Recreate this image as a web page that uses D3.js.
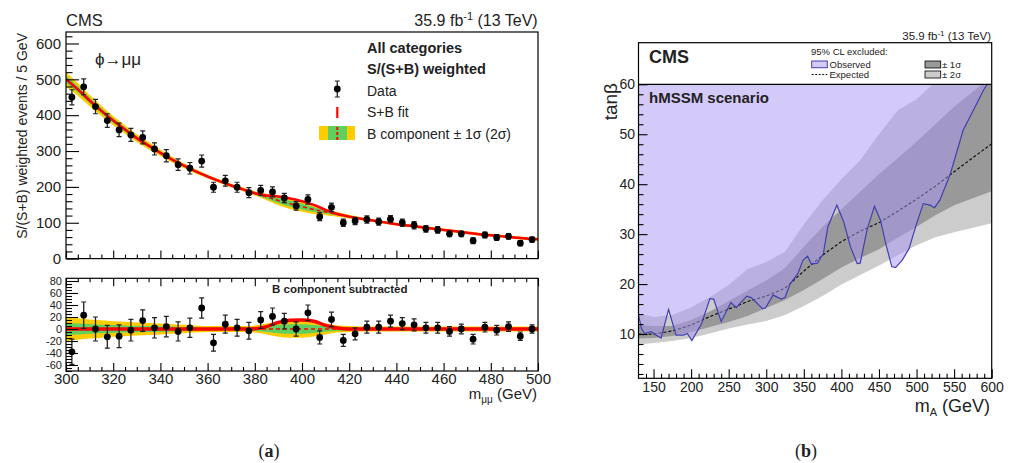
<!DOCTYPE html>
<meta charset="utf-8">
<head>
<style>
body { margin: 0; background: #fff; }
svg text { font-family: "Liberation Sans", Arial, sans-serif; fill: #222; }
.axis line { stroke: #000; stroke-width: 1.1; }
.frame { fill: none; stroke: #000; stroke-width: 1.2; }
</style>
</head>
<body>
<svg id="chart" width="1013" height="463"></svg>
<script src="https://cdn.jsdelivr.net/npm/d3@7/dist/d3.min.js"></script>
<script>
// ---------- (a) dimuon spectrum ----------
var binCenters = d3.range(302.5, 500, 5);   // 40 bins, 5 GeV wide
var dataCounts = [450,479,424,385,359,345,338,306,287,262,252,272,199,217,199,184,190,186,169,147,
                  165,117,143,100,105,109,103,110,100,93,83,80,69,69,50,66,59,62,43,53];
var dataErr    = [21,22,20,19,19,18,18,17,17,16,16,17,14,15,14,14,14,14,13,12,
                  13,11,12,10,10,10,10,10,10,10,9,9,8,8,8,8,8,8,7,7];
var residuals  = [-38,23,0,-13,-12,-2,14,2,4,-4,2,35,-23,8,2,-3,15,21,13,0,
                  27,-14,16,-19,-8,3,3,13,9,7,2,2,-4,0,-17,3,-2,4,-12,0];

var fitMass = d3.range(300, 501, 5);        // 41 points
var bkgFit = [500,472,441,412,385,360,336,315,295,276,259,243,229,216,204,193,182,172,162,153,
              145,137,130,123,117,111,106,101,96,92,88,84,80,76,72,68,65,62,59,56,54];
var sigFit = [0,0,0,0,0,0,0,0,0,0,0,0,0,0,0,0,0.5,4,11,14.5,
              15,13,6,1.5,0,0,0,0,0,0,0,0,0,0,0,0,0,0,0,0,0];
var band1  = [10,9,8,7,6.5,6,5.5,5,4.5,4,3.5,3,2.5,2.5,2.5,2.5,3,5,7,8,
              8,6.5,4.5,3,2.5,2,2,2,2,2,2,2,2,2,2,2,2,2,2,2,2];
var band2  = [20,18,16,14.5,13,12,11,10,9,8,7,6,5,5,5,5,6,9,13,14.5,
              14.5,12.5,9,6,5,4,4,4,4,4,4,4,4,4,4,4,4,4,4,4,4];

var topTicks = [0,100,200,300,400,500,600];
var botTicks = [-60,-40,-20,0,20,40,60,80];
var massTicks = [300,320,340,360,380,400,420,440,460,480,500];

// ---------- (b) hMSSM limits ----------
var limMass = [130,150,175,200,225,250,275,300,325,350,375,400,425,450,475,500,525,550,575,600];
var expLim  = [10.0,10.0,10.6,11.8,13.5,15.0,16.5,17.6,19.2,22.6,25.8,28.5,30.6,32.3,34.6,37.0,39.6,42.5,45.3,48.1];
var sig1Up  = [11.8,11.6,11.6,12.8,14.5,16.6,18.7,20.7,23.2,27.5,31.5,35.0,38.5,42.0,45.2,48.5,52.0,55.5,58.5,61.5];
var sig1Dn  = [9.1,9.2,9.6,10.4,11.4,12.4,13.6,15.2,16.8,18.8,21.0,23.3,25.2,27.0,29.3,31.5,33.8,35.8,37.2,38.6];
var sig2Up  = [14.1,13.4,13.8,15.3,17.4,19.8,23.0,24.4,26.5,32.0,36.8,41.0,44.8,50.0,54.8,57.0,60.5,64,67,70];
var sig2Dn  = [7.9,8.2,8.6,9.2,10.1,11.1,11.9,12.6,13.8,15.6,17.6,19.9,21.8,23.7,25.8,27.8,29.4,30.4,31.3,32.2];

var obsMass = [130,134,138,147,151,160,170,180,190,195,201,214,225,230,240,253,260,274,280,295,299,309,320,325,332,342,349,355,360,
               368,376,382,394,403,412,421,425,434,444,452,459,467,472,481,490,500,509,518,524,531,545,562,580,589,594];
var obsLim  = [13.8,11.1,10.1,10.5,10.0,9.2,14.9,9.8,9.8,10.1,8.7,12.1,17.1,17.0,12.5,16.3,15.3,17.6,17.3,15.1,15.2,17.8,17.0,17.3,20.1,22.1,24.8,25.6,24.0,
               24.2,26.1,31.5,35.8,32.5,27.5,24.1,24.2,30.8,35.6,32.8,28.1,23.5,23.3,24.8,27.1,32.1,36.1,35.8,35.3,36.8,42.1,50.8,56.1,58.8,60];

var rangeA = [130,600];
var tanbTicks = [10,20,30,40,50,60];
var mATicks = [150,200,250,300,350,400,450,500,550,600];

var svg = d3.select("#chart");

function drawTicks(g, axisFn, scale, vals, size, labels, fontSize, pad) {
    var ax = axisFn(scale).tickValues(vals).tickSize(-size).tickPadding(pad || 4);
    ax.tickFormat(labels ? function (d) { return String(d); } : "");
    g.attr("class", "axis").call(ax);
    g.select(".domain").remove();
    g.selectAll("text").style("font-size", fontSize + "px");
}

// ======================= panel (a) =======================
var xL = d3.scaleLinear().domain([300, 500]).range([66, 538]);
var yTop = d3.scaleLinear().domain([0, 632]).range([258.6, 32]);
var yBot = d3.scaleLinear().domain([-70, 84.5]).range([371, 278.3]);

svg.append("defs").selectAll("clipPath")
    .data([["clipTop", yTop], ["clipBot", yBot]])
    .enter().append("clipPath").attr("id", d => d[0])
    .append("rect")
    .attr("x", xL.range()[0]).attr("width", xL.range()[1] - xL.range()[0])
    .attr("y", d => d[1].range()[1]).attr("height", d => d[1].range()[0] - d[1].range()[1]);

var fitPts = fitMass.map((m, i) => ({ m: m, b: bkgFit[i], s: sigFit[i], w1: band1[i], w2: band2[i] }));

function bandArea(ys, base, key) {
    return d3.area().curve(d3.curveMonotoneX)
        .x(d => xL(d.m))
        .y0(d => ys(base(d) - d[key]))
        .y1(d => ys(base(d) + d[key]));
}

// top panel
var gTop = svg.append("g").attr("clip-path", "url(#clipTop)");
gTop.append("path").datum(fitPts).attr("fill", "#ffcc00").attr("d", bandArea(yTop, d => d.b, "w2"));
gTop.append("path").datum(fitPts).attr("fill", "#5fd05f").attr("d", bandArea(yTop, d => d.b, "w1"));
gTop.append("path").datum(fitPts).attr("fill", "none").attr("stroke", "#ff0000")
    .attr("stroke-width", 1.5).attr("stroke-dasharray", "4,3")
    .attr("d", d3.line().curve(d3.curveMonotoneX).x(d => xL(d.m)).y(d => yTop(d.b)));
gTop.append("path").datum(fitPts).attr("fill", "none").attr("stroke", "#ff0000")
    .attr("stroke-width", 2.5)
    .attr("d", d3.line().curve(d3.curveMonotoneX).x(d => xL(d.m)).y(d => yTop(d.b + d.s)));

var pts = binCenters.map((m, i) => ({ m: m, v: dataCounts[i], e: dataErr[i], r: residuals[i] }));

function drawPoints(g, ys, key) {
    var p = g.selectAll(".pt").data(pts).enter().append("g").attr("class", "pt");
    p.append("line").attr("x1", d => xL(d.m)).attr("x2", d => xL(d.m))
        .attr("y1", d => ys(d[key] - d.e)).attr("y2", d => ys(d[key] + d.e))
        .attr("stroke", "#222").attr("stroke-width", 1.3);
    [-1, 1].forEach(function (s) {
        p.append("line").attr("x1", d => xL(d.m) - 2.5).attr("x2", d => xL(d.m) + 2.5)
            .attr("y1", d => ys(d[key] + s * d.e)).attr("y2", d => ys(d[key] + s * d.e))
            .attr("stroke", "#222").attr("stroke-width", 1.2);
    });
    p.append("circle").attr("cx", d => xL(d.m)).attr("cy", d => ys(d[key])).attr("r", 3.4).attr("fill", "#000");
}
drawPoints(svg.append("g").attr("clip-path", "url(#clipTop)"), yTop, "v");

svg.append("rect").attr("class", "frame").attr("x", 66).attr("y", 32).attr("width", 472).attr("height", 226.6);
drawTicks(svg.append("g").attr("transform", "translate(66,0)"), d3.axisLeft, yTop, topTicks, 13, true, 15, 5);
drawTicks(svg.append("g").attr("transform", "translate(66,0)"), d3.axisLeft, yTop, d3.range(20, 632, 20).filter(v => v % 100), 6.5, false);
drawTicks(svg.append("g").attr("transform", "translate(0,258.6)"), d3.axisBottom, xL, massTicks, 8, false);
drawTicks(svg.append("g").attr("transform", "translate(0,258.6)"), d3.axisBottom, xL, d3.range(305, 500, 5).filter(v => v % 20), 4, false);

// bottom panel
var gBot = svg.append("g").attr("clip-path", "url(#clipBot)");
gBot.append("path").datum(fitPts).attr("fill", "#ffcc00").attr("d", bandArea(yBot, d => 0, "w2"));
gBot.append("path").datum(fitPts).attr("fill", "#5fd05f").attr("d", bandArea(yBot, d => 0, "w1"));
gBot.append("path").datum(fitPts).attr("fill", "none").attr("stroke", "#ff0000")
    .attr("stroke-width", 1.5).attr("stroke-dasharray", "4,3")
    .attr("d", d3.line().x(d => xL(d.m)).y(d => yBot(0)));
gBot.append("path").datum(fitPts).attr("fill", "none").attr("stroke", "#ff0000")
    .attr("stroke-width", 3.5)
    .attr("d", d3.line().curve(d3.curveMonotoneX).x(d => xL(d.m)).y(d => yBot(d.s)));
drawPoints(svg.append("g").attr("clip-path", "url(#clipBot)"), yBot, "r");

svg.append("rect").attr("class", "frame").attr("x", 66).attr("y", 278.3).attr("width", 472).attr("height", 92.7);
drawTicks(svg.append("g").attr("transform", "translate(66,0)"), d3.axisLeft, yBot, botTicks, 12, true, 11, 4);
drawTicks(svg.append("g").attr("transform", "translate(66,0)"), d3.axisLeft, yBot, d3.range(-70, 85, 5).filter(v => v % 20), 6, false);
drawTicks(svg.append("g").attr("transform", "translate(0,371)"), d3.axisBottom, xL, massTicks, 8, true, 15, 2.5);
drawTicks(svg.append("g").attr("transform", "translate(0,371)"), d3.axisBottom, xL, d3.range(305, 500, 5).filter(v => v % 20), 4, false);
drawTicks(svg.append("g").attr("transform", "translate(0,278.3)"), d3.axisTop, xL, massTicks, 8, false);
drawTicks(svg.append("g").attr("transform", "translate(0,278.3)"), d3.axisTop, xL, d3.range(305, 500, 5).filter(v => v % 20), 4, false);

// texts (a)
svg.append("text").attr("x", 66).attr("y", 26).style("font-size", "16.5px").text("CMS");
var lum = svg.append("text").attr("x", 537.7).attr("y", 26).attr("text-anchor", "end").style("font-size", "16px");
lum.append("tspan").text("35.9 fb");
lum.append("tspan").attr("dy", -6).style("font-size", "11px").text("-1");
lum.append("tspan").attr("dy", 6).text(" (13 TeV)");
svg.append("text").attr("transform", "translate(27,33) rotate(-90)").attr("text-anchor", "end")
    .style("font-size", "14px").text("S/(S+B) weighted events / 5 GeV");
svg.append("text").attr("x", 95).attr("y", 65).style("font-size", "17px").text("ϕ→μμ");
var mmu = svg.append("text").attr("x", 537).attr("y", 399).attr("text-anchor", "end").style("font-size", "15px");
mmu.append("tspan").text("m");
mmu.append("tspan").attr("dy", 4).style("font-size", "10px").text("μμ");
mmu.append("tspan").attr("dy", -4).text(" (GeV)");
svg.append("text").attr("x", 272).attr("y", 293).style("font-size", "11.5px").style("font-weight", "bold").text("B component subtracted");

// legend (a)
svg.append("text").attr("x", 367).attr("y", 53).style("font-size", "14.5px").style("font-weight", "bold").text("All categories");
svg.append("text").attr("x", 367).attr("y", 74).style("font-size", "14.5px").style("font-weight", "bold").text("S/(S+B) weighted");
svg.append("text").attr("x", 367).attr("y", 95.5).style("font-size", "14px").text("Data");
svg.append("text").attr("x", 367).attr("y", 117).style("font-size", "14px").text("S+B fit");
svg.append("text").attr("x", 367).attr("y", 138.5).style("font-size", "14px").text("B component ± 1σ (2σ)");
svg.append("line").attr("x1", 337.3).attr("x2", 337.3).attr("y1", 81).attr("y2", 97).attr("stroke", "#222").attr("stroke-width", 1.3);
svg.append("line").attr("x1", 334.8).attr("x2", 339.8).attr("y1", 81).attr("y2", 81).attr("stroke", "#222");
svg.append("line").attr("x1", 334.8).attr("x2", 339.8).attr("y1", 97).attr("y2", 97).attr("stroke", "#222");
svg.append("circle").attr("cx", 337.3).attr("cy", 89).attr("r", 3.4).attr("fill", "#000");
svg.append("line").attr("x1", 337.3).attr("x2", 337.3).attr("y1", 107).attr("y2", 118).attr("stroke", "#ff0000").attr("stroke-width", 2.2);
svg.append("rect").attr("x", 319).attr("y", 126).attr("width", 36).attr("height", 14).attr("fill", "#ffcc00");
svg.append("rect").attr("x", 328).attr("y", 126).attr("width", 19).attr("height", 14).attr("fill", "#5fd05f");
svg.append("line").attr("x1", 337.3).attr("x2", 337.3).attr("y1", 127).attr("y2", 140).attr("stroke", "#ff0000")
    .attr("stroke-width", 2).attr("stroke-dasharray", "3,2");

var capA = svg.append("text").attr("x", 269).attr("y", 457).attr("text-anchor", "middle")
    .style("font-family", "'Liberation Serif', serif").style("font-size", "18px");
capA.append("tspan").text("(");
capA.append("tspan").style("font-weight", "bold").text("a");
capA.append("tspan").text(")");

// ======================= panel (b) =======================
var xR = d3.scaleLinear().domain(rangeA).range([638.5, 991.7]);
var yR = d3.scaleLinear().domain([1, 60]).range([379, 84.3]);

svg.select("defs").append("clipPath").attr("id", "clipR").append("rect")
    .attr("x", 638.5).attr("y", 84.3).attr("width", 353.2).attr("height", 294);

var lim = limMass.map((m, i) => ({ m: m, e: expLim[i], u1: sig1Up[i], d1: sig1Dn[i], u2: sig2Up[i], d2: sig2Dn[i] }));
var obs = obsMass.map((m, i) => ({ m: m, t: obsLim[i] }));

var gR = svg.append("g").attr("clip-path", "url(#clipR)");
gR.append("path").datum(lim).attr("fill", "#cccccc")
    .attr("d", d3.area().x(d => xR(d.m)).y0(d => yR(d.d2)).y1(d => yR(d.u2)));
gR.append("path").datum(lim).attr("fill", "#999999")
    .attr("d", d3.area().x(d => xR(d.m)).y0(d => yR(d.d1)).y1(d => yR(d.u1)));
gR.append("path").datum(lim).attr("fill", "none").attr("stroke", "#111").attr("stroke-width", 1.2)
    .attr("stroke-dasharray", "3,2")
    .attr("d", d3.line().x(d => xR(d.m)).y(d => yR(d.e)));
gR.append("path").datum(obs).attr("fill", "rgb(170,151,245)").attr("fill-opacity", 0.51)
    .attr("d", d3.area().x(d => xR(d.m)).y0(yR(60)).y1(d => yR(d.t)));
gR.append("path").datum(obs).attr("fill", "none").attr("stroke", "#4040b0").attr("stroke-width", 1.2)
    .attr("d", d3.line().x(d => xR(d.m)).y(d => yR(d.t)));

svg.append("rect").attr("class", "frame").attr("x", 638.5).attr("y", 42.7).attr("width", 353.2).attr("height", 335.6);
svg.append("line").attr("x1", 638.5).attr("x2", 991.7).attr("y1", yR(60)).attr("y2", yR(60)).attr("stroke", "#000").attr("stroke-width", 1.2);
drawTicks(svg.append("g").attr("transform", "translate(638.5,0)"), d3.axisLeft, yR, tanbTicks, 9, true, 14, 3.5);
drawTicks(svg.append("g").attr("transform", "translate(638.5,0)"), d3.axisLeft, yR, d3.range(2, 60, 2).filter(v => v % 10), 5, false);
drawTicks(svg.append("g").attr("transform", "translate(0,378.3)"), d3.axisBottom, xR, mATicks, 9, true, 14, 4);
drawTicks(svg.append("g").attr("transform", "translate(0,378.3)"), d3.axisBottom, xR, d3.range(140, 600, 10).filter(v => v % 50), 4.5, false);

svg.append("text").attr("transform", "translate(617,83) rotate(-90)").attr("text-anchor", "end")
    .style("font-size", "19px").text("tanβ");
var mA = svg.append("text").attr("x", 990).attr("y", 412).attr("text-anchor", "end").style("font-size", "18px");
mA.append("tspan").text("m");
mA.append("tspan").attr("dy", 4).style("font-size", "11px").text("A");
mA.append("tspan").attr("dy", -4).text(" (GeV)");

svg.append("text").attr("x", 649).attr("y", 63).style("font-size", "18px").style("font-weight", "bold").text("CMS");
svg.append("text").attr("x", 649).attr("y", 103).style("font-size", "15px").style("font-weight", "bold").text("hMSSM scenario");
var lumR = svg.append("text").attr("x", 991).attr("y", 40).attr("text-anchor", "end").style("font-size", "11.5px");
lumR.append("tspan").text("35.9 fb");
lumR.append("tspan").attr("dy", -4).style("font-size", "8px").text("-1");
lumR.append("tspan").attr("dy", 4).text(" (13 TeV)");

// legend (b)
svg.append("text").attr("x", 811).attr("y", 55).style("font-size", "9.5px").text("95% CL excluded:");
svg.append("rect").attr("x", 811.7).attr("y", 61).attr("width", 15.6).attr("height", 6.7)
    .attr("fill", "rgb(212,203,250)").attr("stroke", "#4040b0").attr("stroke-width", 1);
svg.append("text").attr("x", 829.5).attr("y", 67.5).style("font-size", "9.5px").text("Observed");
svg.append("line").attr("x1", 811.7).attr("x2", 827.3).attr("y1", 74.5).attr("y2", 74.5)
    .attr("stroke", "#111").attr("stroke-width", 1).attr("stroke-dasharray", "2,1.5");
svg.append("text").attr("x", 829.5).attr("y", 77.8).style("font-size", "9.5px").text("Expected");
svg.append("rect").attr("x", 925).attr("y", 61).attr("width", 15.7).attr("height", 7)
    .attr("fill", "#999999").attr("stroke", "#000").attr("stroke-width", 0.8);
svg.append("text").attr("x", 942).attr("y", 67.8).style("font-size", "9.5px").text("± 1σ");
svg.append("rect").attr("x", 925).attr("y", 71).attr("width", 15.7).attr("height", 7)
    .attr("fill", "#cccccc").attr("stroke", "#000").attr("stroke-width", 0.8);
svg.append("text").attr("x", 942).attr("y", 77.8).style("font-size", "9.5px").text("± 2σ");

var capB = svg.append("text").attr("x", 806).attr("y", 457).attr("text-anchor", "middle")
    .style("font-family", "'Liberation Serif', serif").style("font-size", "18px");
capB.append("tspan").text("(");
capB.append("tspan").style("font-weight", "bold").text("b");
capB.append("tspan").text(")");
</script>
</body>
